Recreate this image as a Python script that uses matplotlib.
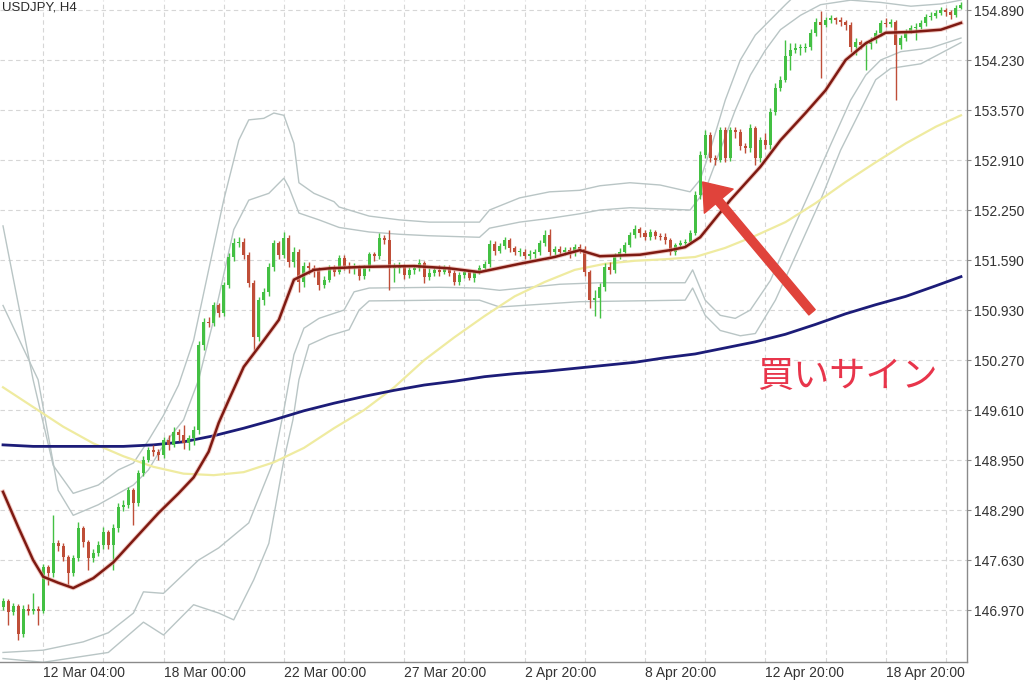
import matplotlib.pyplot as plt
import numpy as np

# USDJPY H4 candles (bar 0 = leftmost visible bar)
symbol_title = "USDJPY, H4"
first_open = 147.01
closes = [
    147.09, 146.94, 147.02, 146.65, 146.99, 146.96, 146.98, 146.96, 147.54, 147.46,
    147.85, 147.81, 147.67, 147.46, 147.66, 148.05, 147.87, 147.66, 147.72, 147.83,
    148.00, 147.83, 148.05, 148.33, 148.36, 148.55, 148.38, 148.78, 148.95, 149.08,
    149.06, 149.02, 149.21, 149.15, 149.32, 149.28, 149.17, 149.24, 149.35, 150.47,
    150.77, 150.76, 150.99, 150.89, 151.26, 151.63, 151.81, 151.83, 151.66, 151.29,
    150.57, 151.06, 151.17, 151.50, 151.81, 151.66, 151.88, 151.56, 151.70, 151.30,
    151.51, 151.48, 151.46, 151.26, 151.33, 151.47, 151.43, 151.62, 151.51, 151.48,
    151.48, 151.38, 151.48, 151.67, 151.64, 151.88, 151.85, 151.48, 151.48, 151.50,
    151.39, 151.46, 151.48, 151.55, 151.37, 151.42, 151.46, 151.43, 151.48, 151.42,
    151.30, 151.39, 151.43, 151.35, 151.43, 151.48, 151.54, 151.80, 151.71, 151.77,
    151.85, 151.75, 151.70, 151.70, 151.64, 151.67, 151.70, 151.81, 151.92, 151.70,
    151.73, 151.70, 151.72, 151.68, 151.76, 151.73, 151.43, 151.06, 151.09, 151.23,
    151.50, 151.46, 151.64, 151.70, 151.79, 151.92, 152.00, 151.95, 151.89, 151.96,
    151.91, 151.89, 151.85, 151.70, 151.79, 151.81, 151.83, 151.95, 152.45, 152.98,
    153.24, 152.94, 152.91, 153.31, 152.94, 153.31, 153.28, 153.09, 153.07, 153.33,
    152.94, 153.17, 153.11, 153.54, 153.86, 153.97, 154.28, 154.36, 154.39, 154.39,
    154.40, 154.59, 154.73, 154.69, 154.76, 154.78, 154.76, 154.73, 154.69, 154.40,
    154.47, 154.43, 154.44, 154.49, 154.59, 154.72, 154.71, 154.73, 154.43, 154.52,
    154.60, 154.65, 154.67, 154.72, 154.80, 154.81, 154.85, 154.89, 154.86, 154.82,
    154.92, 154.96,
]
highs = [
    147.13, 147.12, 147.06, 147.05, 147.03, 147.05, 147.20, 147.02, 147.58, 147.56,
    148.22, 147.90, 147.86, 147.70, 147.70, 148.13, 148.08, 147.90, 147.78, 147.88,
    148.06, 148.02, 148.10, 148.38, 148.42, 148.60, 148.58, 148.82, 149.00, 149.12,
    149.15, 149.10, 149.26, 149.28, 149.38, 149.36, 149.41, 149.28, 149.40, 150.52,
    150.82, 150.84, 151.04, 151.02, 151.30, 151.68, 151.88, 151.90, 151.88, 151.70,
    151.33, 151.10, 151.22, 151.55, 151.86, 151.84, 151.96, 151.92, 151.76, 151.74,
    151.56, 151.56, 151.52, 151.50, 151.38, 151.52, 151.52, 151.66, 151.65, 151.56,
    151.55, 151.52, 151.52, 151.70, 151.70, 151.95, 151.92, 151.99, 151.55, 151.56,
    151.54, 151.50, 151.53, 151.60, 151.58, 151.48, 151.50, 151.52, 151.52, 151.52,
    151.46, 151.43, 151.47, 151.46, 151.46, 151.52, 151.58, 151.85, 151.84, 151.82,
    151.90, 151.88, 151.78, 151.75, 151.74, 151.72, 151.74, 151.86, 151.98, 152.00,
    151.78, 151.78, 151.76, 151.76, 151.80, 151.80, 151.78, 151.46, 151.20, 151.28,
    151.55, 151.56, 151.68, 151.75, 151.83, 151.96, 152.05, 152.03, 151.98, 152.00,
    151.99, 151.95, 151.94, 151.88, 151.82, 151.85, 151.87, 151.99, 152.50, 153.03,
    153.30, 153.28, 152.98, 153.35, 153.34, 153.35, 153.34, 153.32, 153.14, 153.38,
    153.36, 153.22, 153.26, 153.60, 153.92, 154.02, 154.50, 154.45, 154.45, 154.44,
    154.46, 154.64, 154.78, 154.88, 154.80, 154.82, 154.80, 154.80, 154.76, 154.73,
    154.52, 154.50, 154.48, 154.53, 154.63, 154.76, 154.78, 154.77, 154.76, 154.56,
    154.64, 154.69, 154.72, 154.76, 154.84, 154.86, 154.89, 154.93, 154.92, 154.89,
    154.96, 155.00,
]
lows = [
    146.97, 146.77, 146.90, 146.57, 146.61, 146.90, 146.92, 146.77, 146.93, 147.30,
    147.40, 147.75, 147.62, 147.30, 147.42, 147.62, 147.80, 147.50, 147.60, 147.68,
    147.78, 147.78, 147.50, 148.00, 148.28, 148.32, 148.09, 148.34, 148.74, 148.92,
    149.00, 148.95, 148.98, 149.08, 149.12, 149.20, 149.10, 149.08, 149.15, 149.30,
    150.40, 150.70, 150.72, 150.84, 150.85, 151.22, 151.58, 151.76, 151.60, 151.24,
    150.40, 150.52, 151.00, 151.12, 151.45, 151.60, 151.62, 151.50, 151.50, 151.17,
    151.24, 151.40, 151.36, 151.20, 151.22, 151.30, 151.38, 151.40, 151.46, 151.42,
    151.40, 151.33, 151.34, 151.45, 151.58, 151.60, 151.80, 151.19, 151.30, 151.42,
    151.34, 151.35, 151.40, 151.44, 151.28, 151.32, 151.38, 151.38, 151.40, 151.38,
    151.26, 151.26, 151.35, 151.32, 151.30, 151.40, 151.45, 151.50, 151.66, 151.68,
    151.74, 151.70, 151.65, 151.64, 151.60, 151.60, 151.62, 151.66, 151.78, 151.64,
    151.66, 151.65, 151.66, 151.62, 151.64, 151.68, 151.38, 150.95, 150.85, 150.82,
    151.18, 151.40, 151.42, 151.60, 151.66, 151.76, 151.88, 151.90, 151.85, 151.86,
    151.87, 151.85, 151.80, 151.66, 151.66, 151.75, 151.78, 151.80, 151.92, 152.40,
    152.94, 152.88, 152.84, 152.88, 152.88, 152.90, 153.20, 153.04, 153.00, 153.02,
    152.84, 152.88, 153.06, 153.06, 153.50, 153.82, 153.94, 154.10, 154.32, 154.30,
    154.34, 154.36, 154.55, 153.99, 154.66, 154.72, 154.70, 154.68, 154.62, 154.34,
    154.30, 154.38, 154.10, 154.38, 154.45, 154.55, 154.66, 154.66, 153.70, 154.38,
    154.48, 154.58, 154.50, 154.64, 154.68, 154.76, 154.78, 154.82, 154.81, 154.77,
    154.80, 154.90,
]

# Bollinger middle line (red)
mid_idx = [0, 3, 6, 8, 11, 14, 18, 22, 26, 31, 35, 38, 41, 43, 45, 48, 52, 55, 58,
           62, 65, 72, 82, 89, 95, 103, 110, 115, 119, 127, 133, 136, 139, 145, 151,
           155, 160, 164, 168, 172, 176, 181, 187, 191]
mid_vals = [148.53, 148.07, 147.63, 147.41, 147.33, 147.26, 147.39, 147.60, 147.89,
            148.25, 148.51, 148.72, 149.06, 149.44, 149.74, 150.18, 150.53, 150.80,
            151.33, 151.46, 151.48, 151.50, 151.51, 151.48, 151.43, 151.54, 151.63,
            151.72, 151.64, 151.66, 151.72, 151.76, 151.89, 152.38, 152.82, 153.17,
            153.53, 153.83, 154.23, 154.45, 154.59, 154.60, 154.63, 154.72]

# Bollinger bands (grey)
up2_idx = [0, 6, 10, 14, 19, 23, 26, 29, 32, 35, 38, 41, 44, 47, 49, 52, 54, 56, 58,
           59, 62, 66, 67, 73, 79, 85, 95, 97, 103, 109, 115, 119, 125, 131, 137, 139,
           141, 144, 147, 150, 153, 156, 159, 165, 191]
up2_vals = [152.04, 150.01, 148.88, 148.51, 148.62, 148.82, 148.91, 149.21, 149.54,
            149.94, 150.53, 151.46, 152.38, 153.17, 153.44, 153.46, 153.53, 153.50,
            153.13, 152.61, 152.47, 152.36, 152.29, 152.17, 152.12, 152.09, 152.09,
            152.25, 152.41, 152.49, 152.51, 152.57, 152.61, 152.58, 152.49, 152.65,
            153.04, 153.70, 154.23, 154.56, 154.76, 154.96, 155.15, 155.42, 155.42]
up1_idx = [0, 7, 11, 14, 19, 26, 29, 32, 36, 39, 42, 46, 49, 53, 56, 57, 59, 63, 67,
           73, 79, 85, 95, 97, 103, 109, 115, 119, 125, 137, 140, 143, 146, 149, 152,
           155, 159, 163, 169, 175, 181, 187, 191]
up1_vals = [150.99, 150.01, 148.55, 148.22, 148.36, 148.62, 148.82, 149.15, 149.48,
            150.01, 150.80, 151.99, 152.38, 152.47, 152.67, 152.55, 152.21, 152.12,
            152.02, 151.96, 151.93, 151.91, 151.89, 152.01, 152.09, 152.14, 152.20,
            152.25, 152.28, 152.25, 152.51, 153.04, 153.57, 154.03, 154.36, 154.63,
            154.82, 154.96, 155.02, 154.99, 154.94, 154.97, 155.02]
lo1_idx = [0, 8, 16, 21, 26, 28, 32, 39, 43, 49, 53, 54, 56, 58, 60, 63, 68, 70, 73,
           87, 95, 99, 111, 119, 136, 137.5, 140, 143, 146, 149, 153, 157, 161, 165,
           169, 172, 175, 179, 185, 191]
lo1_vals = [146.41, 146.44, 146.55, 146.67, 146.93, 147.21, 147.19, 147.63, 147.79,
            148.12, 148.78, 148.95, 149.61, 150.34, 150.69, 150.82, 150.93, 151.17,
            151.22, 151.23, 151.22, 151.19, 151.27, 151.29, 151.29, 151.46, 151.06,
            150.86, 150.82, 150.93, 151.32, 151.92, 152.51, 153.11, 153.70, 154.03,
            154.23, 154.34, 154.39, 154.52]
lo2_idx = [0, 8, 21, 28, 32, 38, 43, 46, 50, 53, 56, 57.8, 59, 61, 65, 69, 71, 73,
           87, 95, 99, 115, 136, 137.5, 140, 143, 147, 150, 154, 159, 163, 167, 171,
           174, 177, 183, 191]
lo2_vals = [146.33, 146.28, 146.41, 146.81, 146.64, 147.04, 146.93, 146.84, 147.37,
            147.85, 148.95, 149.48, 150.01, 150.47, 150.59, 150.67, 150.93, 151.05,
            151.06, 151.06, 150.97, 151.04, 151.06, 151.22, 150.86, 150.66, 150.59,
            150.62, 151.06, 151.79, 152.38, 153.04, 153.57, 153.97, 154.12, 154.18,
            154.46]

# Moving averages, sampled every 6 bars
ma_idx = [0, 6, 12, 18, 24, 30, 36, 42, 48, 54, 60, 66, 72, 78, 84, 90, 96, 102,
          108, 114, 120, 126, 132, 138, 144, 150, 156, 162, 168, 174, 180, 186, 191]
ma_yellow = [149.91, 149.65, 149.39, 149.17, 149.00, 148.86, 148.77, 148.75, 148.79,
             148.92, 149.11, 149.37, 149.61, 149.91, 150.27, 150.57, 150.85, 151.11,
             151.30, 151.46, 151.54, 151.58, 151.60, 151.63, 151.75, 151.91, 152.09,
             152.34, 152.62, 152.88, 153.13, 153.35, 153.50]
ma_navy = [149.15, 149.13, 149.13, 149.13, 149.13, 149.15, 149.19, 149.27, 149.37,
           149.48, 149.60, 149.70, 149.79, 149.87, 149.94, 149.99, 150.05, 150.09,
           150.12, 150.16, 150.20, 150.24, 150.30, 150.35, 150.43, 150.51, 150.61,
           150.74, 150.88, 151.00, 151.11, 151.25, 151.37]

y_ticks = [146.97, 147.63, 148.29, 148.95, 149.61, 150.27, 150.93,
           151.59, 152.25, 152.91, 153.57, 154.23, 154.89]
x_label_pos = [8, 32, 56, 80, 104, 128, 152, 176]
x_labels = ["12 Mar 04:00", "18 Mar 00:00", "22 Mar 00:00", "27 Mar 20:00",
            "2 Apr 20:00", "8 Apr 20:00", "12 Apr 20:00", "18 Apr 20:00"]
x_grid_pos = [20, 44, 68, 92, 116, 140, 164, 188]

signal_text = "買いサイン"
arrow_tip = (139.5, 152.62)
arrow_tail = (161.3, 150.90)
text_pos = (168.3, 150.06)

GREEN = "#43c043"
RED = "#bf4e38"

fig = plt.figure(figsize=(10.24, 6.83), dpi=100)
ax = fig.add_axes([0, 21 / 683, 967 / 1024, 662 / 683])

# indicator lines
band_kw = dict(color="#b9c5c5", lw=1.0, zorder=2)
ax.plot(up2_idx, up2_vals, **band_kw)
ax.plot(up1_idx, up1_vals, **band_kw)
ax.plot(lo1_idx, lo1_vals, **band_kw)
ax.plot(lo2_idx, lo2_vals, **band_kw)
ax.plot(ma_idx, ma_yellow, color="#efeba0", lw=1.6, zorder=2)
ax.plot(ma_idx, ma_navy, color="#1c1c78", lw=2.0, zorder=3)

# candles
c = np.array(closes)
o = np.array([first_open] + closes[:-1])
x = np.arange(len(c))
cols = np.where(c >= o, GREEN, RED)
ax.vlines(x, lows, highs, colors=cols, lw=1.0, zorder=4)
ax.bar(x, np.maximum(np.abs(c - o), 0.012), bottom=np.minimum(o, c), width=0.6,
       color=cols, linewidth=0, zorder=5)

ax.plot(mid_idx, mid_vals, color="#e8a49a", lw=3.2, alpha=0.6, zorder=6)
ax.plot(mid_idx, mid_vals, color="#7e1a12", lw=1.8, zorder=6)

# axes styling
ax.set_xlim(-0.6, 192.2)
ax.set_ylim(146.284, 155.022)
ax.yaxis.tick_right()
ax.set_yticks(y_ticks)
ax.set_yticklabels([f"{v:.3f}" for v in y_ticks], fontsize=10,
                   family="Liberation Sans", color="#333333")
ax.set_xticks(x_label_pos)
ax.set_xticklabels(x_labels, fontsize=10, family="Liberation Sans",
                   color="#333333", ha="left")
ax.set_xticks(x_grid_pos, minor=True)
ax.tick_params(axis="y", length=3, pad=2, color="#888888")
ax.tick_params(axis="x", which="both", length=0, pad=3)
ax.grid(True, which="both", color="#d6d6d6", linestyle=(0, (4, 3)), lw=0.8, zorder=0)
ax.set_axisbelow(True)
for side in ("left", "top"):
    ax.spines[side].set_visible(False)
for side in ("right", "bottom"):
    ax.spines[side].set_color("#8a8a8a")
    ax.spines[side].set_linewidth(1.0)

ax.text(0.002, 0.998, symbol_title, transform=ax.transAxes, ha="left", va="top",
        fontsize=9.5, family="Liberation Sans", color="#2b2b2b")

ax.annotate("", xy=arrow_tip, xytext=arrow_tail,
            arrowprops=dict(arrowstyle="simple,head_length=1.0,head_width=1.5,tail_width=0.33",
                            color="#e0433b", mutation_scale=18, shrinkA=0, shrinkB=0),
            zorder=7)
ax.text(*text_pos, signal_text, ha="center", va="center", fontsize=26,
        color="#e8354b", family=["Noto Sans CJK JP", "DejaVu Sans"], zorder=7)

fig.savefig("out.png", dpi=100, facecolor="white")
